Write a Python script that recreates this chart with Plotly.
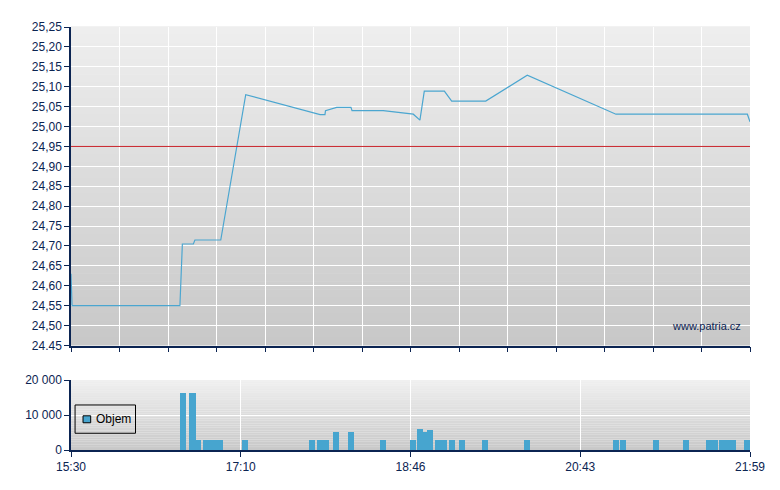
import plotly.graph_objects as go

# price line: position on the session axis (0 = 15:30 ... 389 = 21:59) and price
price_t = [0, 0.6, 62.4, 63.8, 70.1, 71.0, 85.8, 100.1, 142.7, 145.5, 145.8,
           152.2, 160.4, 161.0, 178.9, 196.1, 199.9, 202.4, 213.9, 218.1,
           237.6, 261.4, 312.2, 387.5, 389]
price = [24.63, 24.55, 24.55, 24.705, 24.705, 24.715, 24.715, 25.08, 25.03, 25.03, 25.04,
         25.048, 25.048, 25.04, 25.04, 25.031, 25.016, 25.089, 25.089, 25.064,
         25.064, 25.129, 25.031, 25.031, 25.012]

# volume bars
vol_t = [64.2, 69.6, 73.0, 77.6, 81.4, 85.1, 99.7, 138.1, 142.9, 145.8, 151.8,
         160.4, 178.7, 195.9, 199.8, 202.7, 205.7, 210.3, 213.7, 218.3, 224.0,
         237.2, 261.2, 312.2, 316.2, 334.9, 352.3, 365.5, 369.0, 373.0, 376.4,
         379.3, 387.3]
volume = [16300, 16300, 2850, 2850, 2850, 2850, 2700, 2700, 2700, 2700, 5150,
          5150, 2700, 2700, 6000, 5230, 5700, 2700, 2700, 2700, 2700,
          2700, 2700, 2700, 2700, 2700, 2700, 2700, 2700, 2700, 2700,
          2700, 2700]

ref_price = 24.95
session_end = 389
time_labels = ["15:30", "17:10", "18:46", "20:43", "21:59"]
price_ticks = [24.45 + 0.05 * i for i in range(17)]
price_labels = ["24.45"] + [f"{v:.2f}".replace(".", ",") for v in price_ticks[1:]]
vol_ticks = [0, 10000, 20000]
vol_labels = ["0", "10 000", "20 000"]

NAVY = "#0b2452"
LINE = "#4ba6d0"
BAR = "#47a5cf"
FONT = dict(family="Liberation Sans, Arial, sans-serif", size=12, color=NAVY)

fig = go.Figure()
fig.add_trace(go.Scatter(x=price_t, y=price, mode="lines",
                         line=dict(color=LINE, width=1.2),
                         xaxis="x", yaxis="y", showlegend=False))
fig.add_trace(go.Bar(x=vol_t, y=volume, name="Objem", width=3.5,
                     marker=dict(color=BAR, line=dict(width=0)),
                     xaxis="x2", yaxis="y2", showlegend=False))

# gradient backgrounds
n = 40
for ax, top, bot in [("y", 238, 200), ("y2", 240, 200)]:
    for i in range(n):
        c = round(top + (bot - top) * (i + 0.5) / n)
        fig.add_shape(type="rect", xref="x domain", yref=f"{ax} domain",
                      x0=0, x1=1, y0=1 - (i + 1) / n, y1=1 - i / n + 0.002,
                      fillcolor=f"rgb({c},{c},{c})", line=dict(width=0),
                      layer="below")

fig.add_shape(type="line", xref="x domain", yref="y", x0=0, x1=1,
              y0=ref_price, y1=ref_price, line=dict(color="#c8232a", width=1))

fig.add_annotation(text="www.patria.cz", xref="x domain", yref="y domain",
                   x=0.99, y=0.035, xanchor="right", yanchor="bottom",
                   showarrow=False, font=dict(family=FONT["family"], size=11, color=NAVY))

# legend box for the volume panel
fig.add_shape(type="rect", xref="x2 domain", yref="y2 domain",
              x0=0.006, x1=0.095, y0=0.24, y1=0.645,
              line=dict(color="black", width=1), fillcolor="rgba(0,0,0,0)")
fig.add_shape(type="rect", xref="x2 domain", yref="y2 domain",
              x0=0.0177, x1=0.029, y0=0.39, y1=0.49,
              line=dict(color="black", width=1), fillcolor=BAR)
fig.add_annotation(text="Objem", xref="x2 domain", yref="y2 domain",
                   x=0.034, y=0.44, xanchor="left", yanchor="middle",
                   showarrow=False, font=dict(family=FONT["family"], size=12, color="black"))

axis_common = dict(showline=True, linecolor=NAVY, linewidth=1.5, ticks="outside",
                   ticklen=5, tickcolor=NAVY, gridcolor="white", gridwidth=1,
                   zeroline=False, tickfont=FONT)

fig.update_layout(
    width=780, height=490,
    margin=dict(l=63, r=38, t=17, b=48),
    paper_bgcolor="white", plot_bgcolor="rgba(0,0,0,0)",
    font=FONT,
    bargap=0,
    xaxis=dict(axis_common, domain=[0, 1], range=[0, session_end],
               tickvals=[session_end * i / 14 for i in range(15)],
               showticklabels=False, anchor="y"),
    yaxis=dict(axis_common, domain=[0.247, 1], range=[24.45, 25.25],
               tickvals=price_ticks, ticktext=price_labels, anchor="x"),
    xaxis2=dict(axis_common, domain=[0, 1], range=[0, session_end],
                tickvals=[session_end * i / 4 for i in range(5)],
                ticktext=time_labels, anchor="y2"),
    yaxis2=dict(axis_common, domain=[0, 0.165], range=[0, 20000],
                tickvals=vol_ticks, ticktext=vol_labels, anchor="x2"),
    showlegend=False,
)

fig.write_html("out.html")
